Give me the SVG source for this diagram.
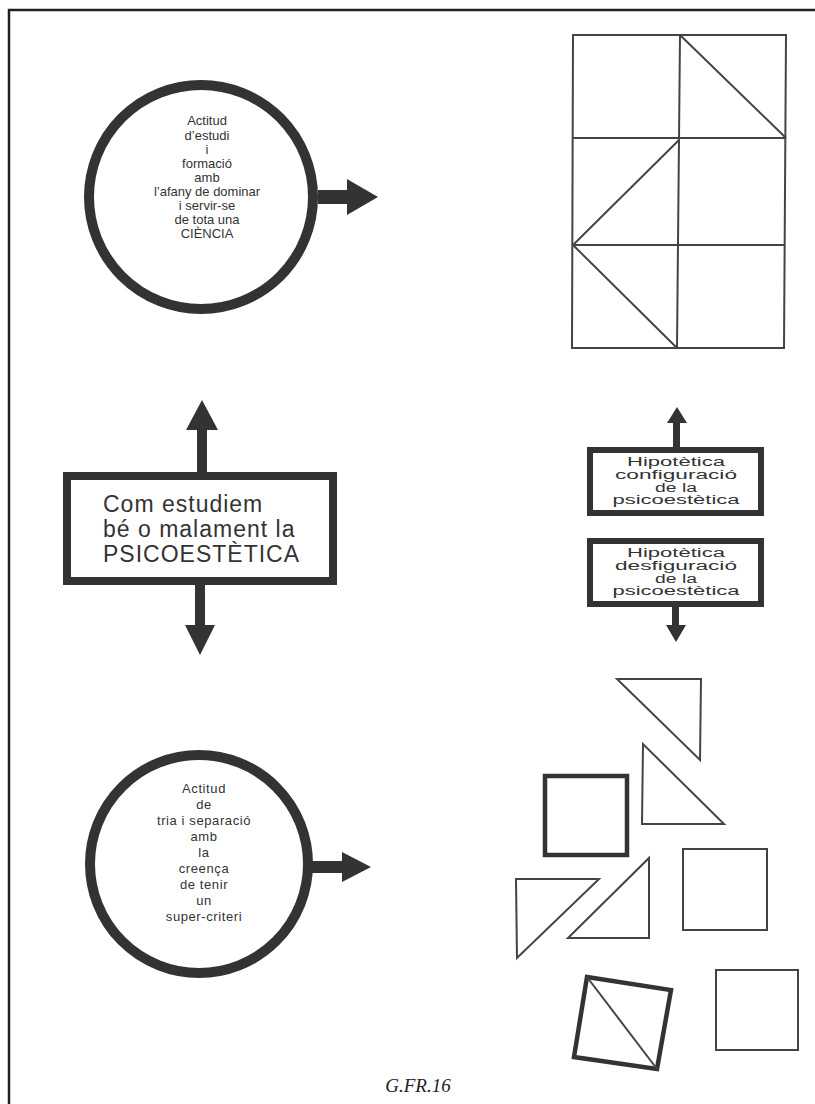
<svg xmlns="http://www.w3.org/2000/svg" width="815" height="1104" viewBox="0 0 815 1104">
<defs>
<style>
.ring{fill:#fff;stroke:#333;stroke-width:10}
.box{fill:#fff;stroke:#333}
.arr{fill:#333}
.ct{font-family:"Liberation Sans",Arial,sans-serif;font-size:13px;fill:#333;text-anchor:middle}
.bt{font-family:"Liberation Sans",Arial,sans-serif;font-size:23px;fill:#333;letter-spacing:1px}
.ht{font-family:"Liberation Sans",Arial,sans-serif;font-size:12px;fill:#333;text-anchor:middle}
.thin{fill:none;stroke:#444;stroke-width:2;stroke-linejoin:miter}
.thick{fill:none;stroke:#333;stroke-width:4.5;stroke-linejoin:miter}
.cap{font-family:"Liberation Serif","Times New Roman",serif;font-style:italic;font-size:19px;fill:#222;text-anchor:middle}
</style>
</defs>
<rect width="815" height="1104" fill="#fff"/>
<path d="M9,1104 V10 H815" fill="none" stroke="#222" stroke-width="2.5"/>

<g id="connectors">
<path class="arr" d="M318,190 H347 V179 L378,197 L347,215 V204 H318 Z"/>
<path class="arr" d="M197,473 V430 H186 L202,400 L218,430 H207 V473 Z"/>
<path class="arr" d="M195,584 V625 H185 L200,655 L215,625 H205 V584 Z"/>
<path class="arr" d="M312,861 H342 V852 L371,867 L342,882 V873 H312 Z"/>
<path class="arr" d="M673,448 V423 H667 L677,407 L687,423 H680 V448 Z"/>
<path class="arr" d="M672,606 V625 H666 L676,642 L686,625 H679 V606 Z"/>
</g>

<g id="circle-top">
<circle class="ring" cx="201" cy="197" r="112"/>
<text class="ct" x="207" y="125">Actitud</text>
<text class="ct" x="207" y="139.5">d’estudi</text>
<text class="ct" x="207" y="153.5">i</text>
<text class="ct" x="207" y="167.5">formació</text>
<text class="ct" x="207" y="181.5">amb</text>
<text class="ct" x="207" y="195.5">l’afany de dominar</text>
<text class="ct" x="207" y="209.5">i servir-se</text>
<text class="ct" x="207" y="223.5">de tota una</text>
<text class="ct" x="207" y="237.5">CIÈNCIA</text>
</g>

<g id="box-center">
<rect class="box" x="67" y="476" width="266" height="105" stroke-width="8"/>
<text class="bt" x="103" y="512">Com estudiem</text>
<text class="bt" x="103" y="537">bé o malament la</text>
<text class="bt" x="103" y="562">PSICOESTÈTICA</text>
</g>

<g id="circle-bottom">
<circle class="ring" cx="199" cy="864" r="109"/>
<text class="ct" x="204" y="793" letter-spacing="0.6">Actitud</text>
<text class="ct" x="204" y="809" letter-spacing="0.6">de</text>
<text class="ct" x="204" y="825" letter-spacing="0.6">tria i separació</text>
<text class="ct" x="204" y="841" letter-spacing="0.6">amb</text>
<text class="ct" x="204" y="857" letter-spacing="0.6">la</text>
<text class="ct" x="204" y="873" letter-spacing="0.6">creença</text>
<text class="ct" x="204" y="889" letter-spacing="0.6">de tenir</text>
<text class="ct" x="204" y="905" letter-spacing="0.6">un</text>
<text class="ct" x="204" y="921" letter-spacing="0.6">super-criteri</text>
</g>

<g id="grid">
<path class="thin" d="M573,35 H786 L784,348 H572 Z"/>
<path class="thin" d="M572,138 H785 M572,245 H785 M680,35 L677,348"/>
<path class="thin" stroke-width="1.5" d="M680,35 L786,138 M679,140 L573,245 L677,348"/>
</g>

<g id="box-config">
<rect class="box" x="590" y="450" width="171" height="63" stroke-width="6"/>
<text class="ht" x="676" y="466" textLength="98" lengthAdjust="spacingAndGlyphs">Hipotètica</text>
<text class="ht" x="676" y="479" textLength="122" lengthAdjust="spacingAndGlyphs">configuració</text>
<text class="ht" x="676" y="491.5" textLength="42" lengthAdjust="spacingAndGlyphs">de la</text>
<text class="ht" x="676" y="504" textLength="127" lengthAdjust="spacingAndGlyphs">psicoestètica</text>
</g>

<g id="box-desconfig">
<rect class="box" x="590" y="541" width="171" height="63" stroke-width="6"/>
<text class="ht" x="676" y="557" textLength="98" lengthAdjust="spacingAndGlyphs">Hipotètica</text>
<text class="ht" x="676" y="570" textLength="122" lengthAdjust="spacingAndGlyphs">desfiguració</text>
<text class="ht" x="676" y="582.5" textLength="42" lengthAdjust="spacingAndGlyphs">de la</text>
<text class="ht" x="676" y="595" textLength="127" lengthAdjust="spacingAndGlyphs">psicoestètica</text>
</g>

<g id="pieces">
<path class="thin" d="M617,679 H701 L700,760 Z"/>
<path class="thin" d="M643,744 L642,824 H724 Z"/>
<rect class="thick" x="545" y="776" width="82" height="79"/>
<rect class="thin" x="683" y="849" width="84" height="81"/>
<path class="thin" stroke-width="3" d="M516,879 H599 L517,958 Z"/>
<path class="thin" d="M649,858 L649,938 H568 Z"/>
<path class="thick" d="M587,977 L671,990 L657,1069 L574,1057 Z"/>
<path class="thin" d="M587,977 L657,1069"/>
<rect class="thin" x="716" y="970" width="82" height="80"/>
</g>

<text class="cap" x="418" y="1092">G.FR.16</text>
</svg>
